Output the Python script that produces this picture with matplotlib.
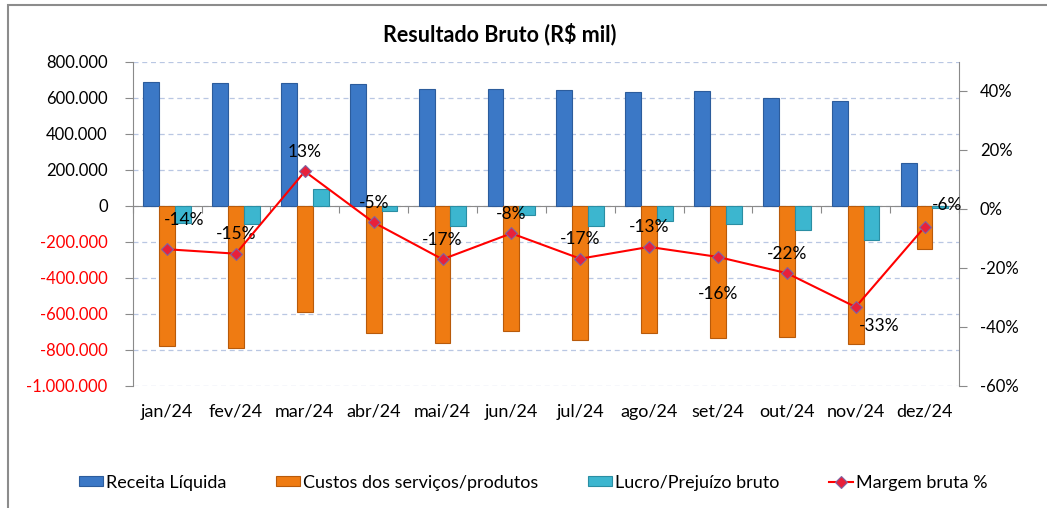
import numpy as np
import matplotlib
matplotlib.use("Agg")
import matplotlib.pyplot as plt
from matplotlib.patches import Rectangle
from matplotlib.ticker import FuncFormatter, FixedLocator

plt.rcParams['font.family'] = ['Lato', 'DejaVu Sans']

# data (R$ mil)
months = ['jan/24', 'fev/24', 'mar/24', 'abr/24', 'mai/24', 'jun/24',
          'jul/24', 'ago/24', 'set/24', 'out/24', 'nov/24', 'dez/24']
receita = [685000, 680000, 680000, 676000, 646000, 646000,
           641000, 630000, 635000, 600000, 580000, 236000]
custos = [-780000, -789000, -593000, -709000, -761000, -695000,
          -746000, -709000, -737000, -731000, -769000, -243000]
lucro = [-95000, -104000, 92000, -31000, -115000, -50000,
         -112000, -84000, -104000, -134000, -191000, -12000]
margem = [-0.137, -0.152, 0.127, -0.046, -0.171, -0.083,
          -0.169, -0.129, -0.163, -0.218, -0.333, -0.062]
# label offsets (points) for the margin data labels
label_offsets = [(12, 21), (0, 14), (0, 14), (0, 14), (0, 14), (0, 14),
                 (0, 14), (0, 14), (0, -27), (0, 14), (17, -14), (16, 16)]

BLUE = '#3b78c6'
ORANGE = '#ef7b12'
CYAN = '#3cb6cf'
GRID = '#b9c7e3'
AXIS = '#8a8a8a'


def br_thousands(v, pos=None):
    s = f"{abs(v):,.0f}".replace(',', '.')
    return ('-' if v < 0 else '') + s


fig = plt.figure(figsize=(10.47, 5.08), dpi=100)
ax = fig.add_axes([0.1267, 0.2407, 0.7892, 0.6382])
x = np.arange(len(months))
w = 0.23

b1 = ax.bar(x - w, receita, w, color=BLUE, edgecolor='#2c5c9c', linewidth=0.8,
            label='Receita Líquida', zorder=3)
b2 = ax.bar(x, custos, w, color=ORANGE, edgecolor='#b85a0a', linewidth=0.8,
            label='Custos dos serviços/produtos', zorder=3)
b3 = ax.bar(x + w, lucro, w, color=CYAN, edgecolor='#2a8ea3', linewidth=0.8,
            label='Lucro/Prejuízo bruto', zorder=3)

ax.set_xlim(-0.5, len(months) - 0.5)
ax.set_ylim(-1000000, 800000)
ax.set_yticks(np.arange(-1000000, 800001, 200000))
ax.yaxis.set_major_formatter(FuncFormatter(br_thousands))
ax.tick_params(axis='y', length=6, width=0.8, color=AXIS, pad=12, labelsize=12)
for lbl, val in zip(ax.get_yticklabels(), ax.get_yticks()):
    lbl.set_color('red' if val < 0 else 'black')
ax.grid(axis='y', linestyle=(0, (4, 3)), color=GRID, linewidth=0.9, zorder=0)

# zero line with small category separators
ax.spines['bottom'].set_position(('data', 0))
ax.spines['bottom'].set_color(AXIS)
ax.xaxis.set_major_locator(FixedLocator(np.arange(-0.5, len(months), 1.0)))
ax.tick_params(axis='x', length=5, width=0.8, color=AXIS, labelbottom=False)
ax.spines['top'].set_visible(False)
ax.spines['right'].set_visible(False)
ax.spines['left'].set_color(AXIS)

sec = ax.secondary_xaxis('bottom')
sec.set_xticks(x)
sec.set_xticklabels(months)
sec.tick_params(length=0, pad=13, labelsize=13)
sec.spines['bottom'].set_visible(False)

ax2 = ax.twinx()
ax2.set_ylim(-0.6, 0.5)
ax2.set_yticks(np.arange(-0.6, 0.41, 0.2))
ax2.yaxis.set_major_formatter(FuncFormatter(lambda v, p: f"{v:.0%}"))
ax2.tick_params(axis='y', length=6, width=0.8, color=AXIS, pad=9, labelsize=12)
for s in ['top', 'left', 'bottom']:
    ax2.spines[s].set_visible(False)
ax2.spines['right'].set_color(AXIS)

ln, = ax2.plot(x, margem, color='red', linewidth=1.5, marker='D', markersize=6,
               markerfacecolor='#e8203a', markeredgecolor='#8064a2',
               markeredgewidth=0.8, label='Margem bruta %', zorder=5)
for xi, m, off in zip(x, margem, label_offsets):
    ax2.annotate(f"{m:.0%}", (xi, m), xytext=off, textcoords='offset points',
                 ha='center', va='center', fontsize=12.5)

fig.text(500 / 1047, 1 - 34 / 508, 'Resultado Bruto (R$ mil)', ha='center',
         va='center', fontsize=15.5, fontweight='bold')

fig.legend(handles=[b1, b2, b3, ln], loc='center', ncol=4,
           bbox_to_anchor=(533 / 1047, 1 - 482.7 / 508), frameon=False,
           fontsize=13, handlelength=1.35, handleheight=0.45,
           handletextpad=0.15, columnspacing=2.75)

fig.patches.append(Rectangle((8 / 1047, -0.1), 1.2, 1.1 - 5 / 508,
                             transform=fig.transFigure, fill=False,
                             edgecolor='#8c8c8c', linewidth=1.5))

fig.savefig('out.png', dpi=100)
